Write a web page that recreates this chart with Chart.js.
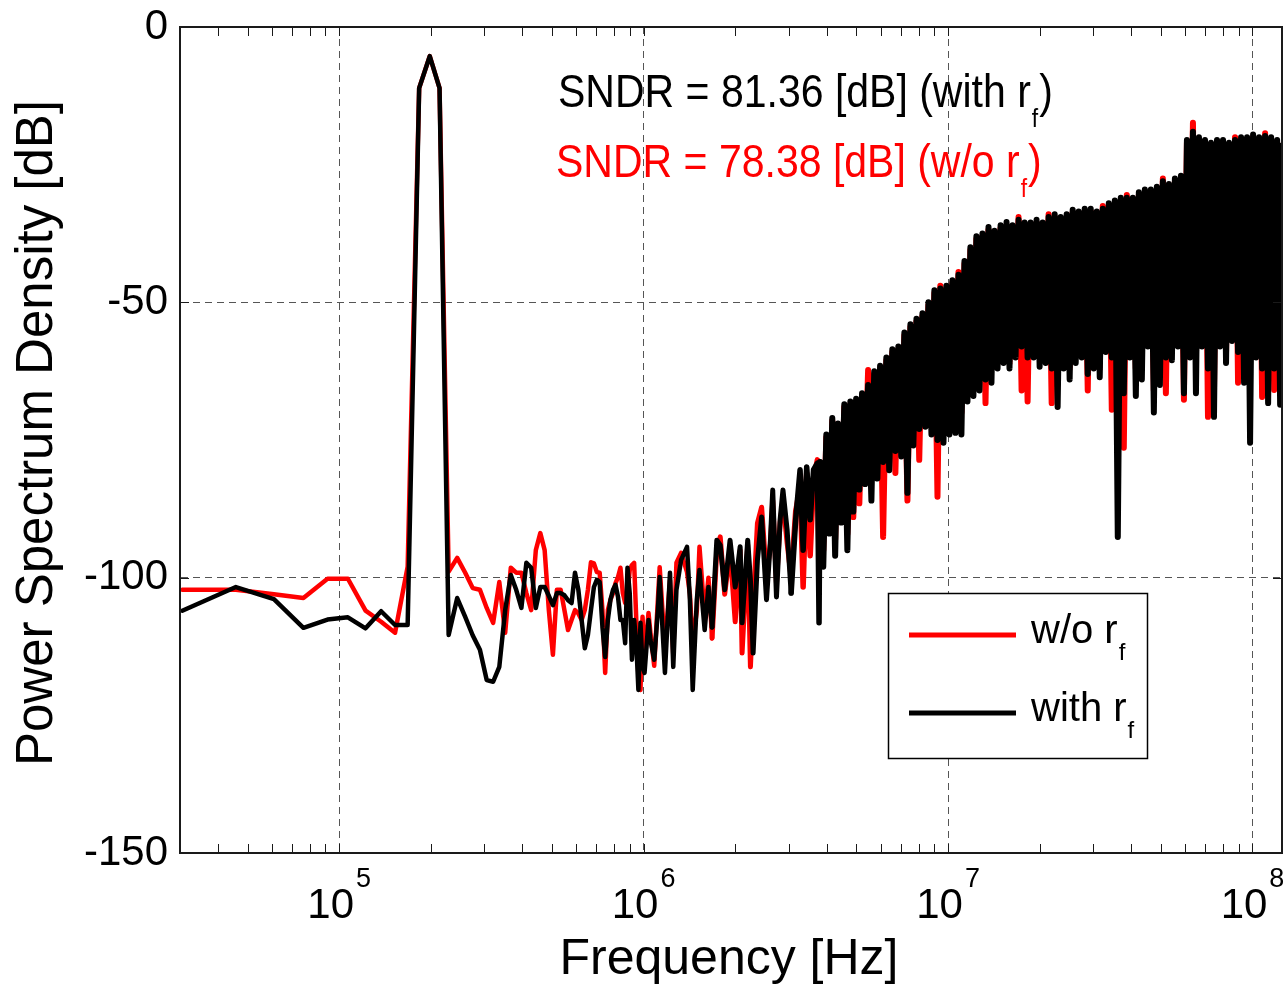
<!DOCTYPE html>
<html><head><meta charset="utf-8">
<script src="https://cdn.jsdelivr.net/npm/chart.js@4.4.1/dist/chart.umd.min.js"></script>
<style>html,body{margin:0;padding:0;background:#fff;}#wrap{width:1283px;height:986px;position:relative;}</style>
</head><body><div id="wrap"><canvas id="c"></canvas></div>
<script>
// FFT bin width: 250 MHz / 16384 points
const BIN_HZ = 250e6 / 16384;

// FFT bin indices (shared by both spectra)
const bins = [
  2,3,4,5,6,7,8,9,10,11,12,13,14,15,16,17,18,19,20,21,22,23,24,25,26,27,28,29,30,31,32,33,
  34,35,36,37,38,39,40,41,42,43,44,45,46,47,48,49,50,51,52,53,54,55,56,57,58,59,60,61,62,63,64,65,
  66,68,69,71,73,74,77,80,82,84,87,91,93,95,98,100,104,107,110,114,117,121,126,131,136,138,144,147,150,155,
  160,166,171,174,179,184,188,194,200,207,214,219,225,231,237,244,247,
  249,255,261,267,273,279,285,292,299,306,
  313,320,327,335,342,350,358,367,375,384,
  392,401,411,420,430,440,450,460,471,482,
  493,504,516,527,540,552,565,578,591,605,
  618,633,647,662,677,693,709,725,742,759,
  776,794,812,831,850,870,890,910,931,953,
  975,997,1020,1043,1067,1092,1117,1143,1169,1196,
  1223,1252,1280,1310,1340,1371,1402,1435,1468,1501,
  1536,1571,1607,1644,1682,1721,1760,1801,1842,1885,
  1928,1972,2018,2064,2112,2160,2210,2261,2313,2366,
  2420,2476,2533,2591,2651,2712,2774,2838,2903,2970,
  3038,3108,3179,3253,3327,3404,3482,3562,3644,3728,
  3814,3902,3991,4083,4177,4273,4371,4472,4575,4680,
  4788,4898,5011,5126,5244,5365,5488,5614,5743,5875,
  6011,6149,6290,6435,6583,6734,6889,7048,7210,7376,
  7545,7719,7896,8078,8192
];

// PSD [dB] without r_f (red)
const psdWithoutRf = [
  -102.2,-102.2,-103.0,-103.7,-100.2,-100.2,-106.0,-108.0,-110.0,-98.0,
  -11.1,-5.3,-11.1,-98.9,-96.4,-99.1,-101.9,-102.2,-105.5,-108.2,
  -100.8,-110.0,-98.2,-99.1,-99.1,-102.8,-105.9,-95.0,-91.9,-95.0,
  -105.9,-114.0,-102.2,-102.2,-105.9,-109.5,-107.7,-105.9,-106.5,-107.7,
  -105.9,-102.2,-97.2,-97.4,-99.0,-99.1,-105.9,-117.3,-105.9,-104.0,
  -102.8,-101.0,-99.9,-98.2,-102.8,-104.6,-102.8,-98.6,-97.7,-97.3,
  -107.7,-118.0,-120.4,-107.1,
  -115.0,-106.4,-110.0,-116.0,-104.0,-98.1,-113.0,-100.5,-114.0,-97.3,
  -95.5,-99.0,-103.0,-112.0,-106.0,-94.4,-107.0,-100.0,-111.0,-95.0,
  -92.6,-103.0,-95.0,-108.0,-95.0,-113.7,-94.0,-116.2,-105.0,-90.1,
  -87.2,-100.0,-94.0,-86.0,-101.0,-90.0,-86.0,-93.7,-100.0,-88.0,
  -83.5,-101.7,-81.0,-96.0,-82.0,-78.6,-97.0,
  -79.5,-95,-74.5,-91,-71.5,-93,-72.5,-89,-69,-92,
  -68.5,-89,-68,-86.5,-67,-80,-62.3,-82,-63,-79,
  -62,-92.6,-60.5,-78,-59,-81,-58.5,-75,-56,-86,
  -54.5,-74,-53.5,-78.6,-52.5,-70,-50.5,-72,-48.3,-85.3,
  -47,-72,-47.5,-71,-46.5,-70,-44.5,-70,-43,-66,
  -40.5,-65,-38.5,-64,-38,-68.3,-36.8,-62,-37.5,-61,
  -36.5,-60,-36,-61,-36.5,-59,-34.5,-66,-36,-68,
  -36,-58,-35.5,-60,-36,-59.5,-34,-68.3,-34.5,-65,
  -35,-60,-34.5,-62,-33.7,-59,-34,-58.5,-33.5,-66,
  -33.5,-61,-34,-62,-32.5,-57.5,-32.5,-69.5,-32,-65,
  -31.5,-76.4,-30.5,-58.5,-31.5,-62,-30.5,-60,-30,-56.5,
  -30,-66,-29.5,-62,-27.5,-66.5,-29,-59,-28,-56.5,
  -27.5,-67.7,-21,-58,-17.4,-60,-20.5,-56.5,-21,-70.8,
  -21.5,-66,-21,-56.5,-21,-59,-21.5,-55.5,-20,-64.6,
  -20.5,-62,-20.5,-60,-20,-58.5,-20.5,-67.2,-19.3,-64,
  -20.5,-65.9,-21,-63,-22
];

// PSD [dB] with r_f (black)
const psdWithRf = [
  -106.0,-101.7,-103.9,-109.1,-107.6,-107.2,-109.2,-106.1,-108.6,-108.6,
  -11.1,-5.3,-11.1,-110.4,-103.7,-107.1,-110.5,-113.1,-118.6,-118.9,
  -116.2,-105.9,-99.5,-102.2,-105.5,-97.3,-98.2,-105.5,-101.7,-101.7,
  -103.3,-105.0,-102.8,-102.8,-103.2,-104.1,-104.6,-99.1,-102.2,-107.7,
  -112.8,-110.4,-105.9,-101.7,-100.4,-100.8,-109.0,-114.4,-107.7,-104.0,
  -102.2,-101.3,-103.5,-107.7,-107.7,-111.9,-98.2,-102.8,-114.9,-107.7,
  -111.9,-120.4,-108.2,-116.2,
  -117.3,-107.7,-111.3,-114.9,-105.9,-99.9,-117.3,-99.1,-116.2,-102.2,
  -96.8,-94.4,-104.0,-120.4,-104.0,-98.6,-109.5,-101.7,-109.0,-93.2,
  -94.1,-102.2,-93.2,-101.7,-94.4,-108.2,-93.2,-100.4,-113.7,-96.8,
  -89.0,-104.0,-93.2,-84.1,-103.5,-89.5,-84.1,-91.3,-102.8,-89.5,
  -80.4,-95.0,-79.9,-89.5,-80.4,-79.2,-108.2,
  -79,-98,-74,-92,-71,-96,-72,-90,-68.5,-95,
  -68,-88,-67.5,-84,-66.5,-83,-65,-86,-62.5,-82,
  -61.5,-79,-60,-80.5,-58.5,-77,-58,-78,-55.5,-84.6,
  -54,-76,-53,-73,-52,-72.6,-50,-74,-47.8,-75,
  -47.5,-75.5,-47,-74,-46,-73.7,-45,-74,-42.5,-68,
  -40,-67,-38,-66,-37.5,-64,-36.3,-64.6,-37,-62,
  -36,-61,-35.4,-62,-36,-60,-35,-58,-35.5,-60,
  -35.5,-60,-35,-61.7,-35.5,-61,-34.5,-62,-34,-69,
  -34.5,-62,-34,-64,-33.2,-61,-33.5,-60,-33,-63,
  -33,-62,-33.5,-63.6,-33,-59,-32,-60,-31.5,-92.6,
  -31,-66.5,-31,-60,-31,-67,-30,-64,-29.5,-58,
  -29.5,-70,-29,-65,-28,-60,-28.5,-60.5,-27.5,-58,
  -27,-66.5,-20.5,-60,-19,-66.5,-20,-58,-20.5,-62,
  -21,-70.8,-20.5,-58,-20.5,-61,-21,-57,-20.5,-59,
  -20,-64.6,-20,-75.5,-19.5,-60,-20,-62,-19.8,-68.3,
  -20,-62,-20.5,-68.6,-21.5
];

const xTickExponents = [5, 6, 7, 8];
const yTicks = [0, -50, -100, -150];
const seriesNames = ['w/o r', 'with r'];
const subscriptText = 'f';
const sndrLines = ['SNDR = 81.36 [dB] (with r', 'SNDR = 78.38 [dB] (w/o r'];
const xTitle = 'Frequency [Hz]';
const yTitle = 'Power Spectrum Density [dB]';

const FONT = '"Liberation Sans", Arial, Helvetica, sans-serif';
Chart.defaults.font.family = FONT;

function toPoints(vals) {
  return bins.map((k, i) => ({ x: k * BIN_HZ, y: vals[i] }));
}

const decor = {
  id: 'decor',
  afterDatasetsDraw(chart) {
    const ctx = chart.ctx;
    const a = chart.chartArea;
    const xs = chart.scales.x, ys = chart.scales.y;
    ctx.save();
    ctx.strokeStyle = '#1a1a1a';
    ctx.lineWidth = 2;
    ctx.strokeRect(a.left, a.top, a.right - a.left, a.bottom - a.top);
    ctx.lineWidth = 1;
    const tl = 9;
    for (let d = 4; d <= 8; d++) {
      for (let m = 1; m <= 9; m++) {
        const v = m * Math.pow(10, d);
        if (v <= xs.min || v >= xs.max) continue;
        const px = Math.round(xs.getPixelForValue(v)) + 0.5;
        ctx.beginPath();
        ctx.moveTo(px, a.bottom); ctx.lineTo(px, a.bottom - tl);
        ctx.moveTo(px, a.top); ctx.lineTo(px, a.top + tl);
        ctx.stroke();
      }
    }
    yTicks.forEach(v => {
      const py = Math.round(ys.getPixelForValue(v)) + 0.5;
      ctx.beginPath();
      ctx.moveTo(a.left, py); ctx.lineTo(a.left + tl, py);
      ctx.moveTo(a.right, py); ctx.lineTo(a.right - tl, py);
      ctx.stroke();
    });
    ctx.fillStyle = '#000';
    ctx.textBaseline = 'alphabetic';
    ctx.textAlign = 'left';
    xTickExponents.forEach(e => {
      const px = xs.getPixelForValue(Math.pow(10, e));
      ctx.font = '42px ' + FONT;
      const bw = ctx.measureText('10').width;
      ctx.font = '27px ' + FONT;
      const ew = ctx.measureText(String(e)).width;
      const start = px - (bw + 2 + ew) / 2;
      ctx.font = '42px ' + FONT;
      ctx.fillText('10', start, 918);
      ctx.font = '27px ' + FONT;
      ctx.fillText(String(e), start + bw + 2, 887);
    });
    ctx.font = '50px ' + FONT;
    ctx.textAlign = 'center';
    ctx.fillText(xTitle, (a.left + a.right) / 2 - 2, 974);
    ctx.save();
    ctx.translate(52, 433);
    ctx.rotate(-Math.PI / 2);
    ctx.font = '51px ' + FONT;
    ctx.fillText(yTitle, 0, 0);
    ctx.restore();

    // SNDR annotations (slightly tall lettering, as in the original figure)
    const ds = chart.data.datasets;
    const noteColors = [ds[1].borderColor, ds[0].borderColor];
    const noteX = [558, 556];
    const noteY = [107, 177];
    ctx.textAlign = 'left';
    sndrLines.forEach((t, i) => {
      ctx.save();
      ctx.translate(noteX[i], noteY[i]);
      ctx.scale(1, 1.12);
      ctx.fillStyle = noteColors[i];
      ctx.font = '41px ' + FONT;
      const w = ctx.measureText(t).width;
      ctx.fillText(t, 0, 0);
      ctx.font = '23px ' + FONT;
      const sw = ctx.measureText(subscriptText).width;
      ctx.fillText(subscriptText, w + 1, 17.5);
      ctx.font = '41px ' + FONT;
      ctx.fillText(')', w + sw + 2, 0);
      ctx.restore();
    });

    // legend
    const lx = 888.5, ly = 593.5, lw = 259, lh = 165;
    ctx.fillStyle = '#fff';
    ctx.fillRect(lx, ly, lw, lh);
    ctx.strokeStyle = '#000';
    ctx.lineWidth = 1.5;
    ctx.strokeRect(lx, ly, lw, lh);
    const rowY = [635, 713];
    ds.forEach((d, i) => {
      ctx.strokeStyle = d.borderColor;
      ctx.lineWidth = 5;
      ctx.lineCap = 'butt';
      ctx.beginPath();
      ctx.moveTo(909, rowY[i]); ctx.lineTo(1016, rowY[i]);
      ctx.stroke();
      ctx.fillStyle = '#000';
      ctx.font = '40px ' + FONT;
      const w = ctx.measureText(seriesNames[i]).width;
      ctx.fillText(seriesNames[i], 1031, rowY[i] + 8);
      ctx.font = '24px ' + FONT;
      ctx.fillText(subscriptText, 1031 + w + 1, rowY[i] + 25);
    });
    ctx.restore();
  }
};

const segWidth = c => {
  const k = bins[c.p0DataIndex];
  if (k >= 249) return 6;
  if (k >= 200) return 5.5;
  if (k >= 110) return 5;
  return undefined;
};

function lineDataset(label, vals, color, order) {
  return {
    label: label,
    data: toPoints(vals),
    borderColor: color,
    borderWidth: 4.5,
    pointRadius: 0,
    tension: 0,
    fill: false,
    order: order,
    borderJoinStyle: 'round',
    borderCapStyle: 'round',
    segment: { borderWidth: segWidth }
  };
}

new Chart(document.getElementById('c'), {
  type: 'line',
  data: {
    datasets: [
      lineDataset('w/o rf', psdWithoutRf, '#ff0000', 1),
      lineDataset('with rf', psdWithRf, '#000000', 0)
    ]
  },
  options: {
    responsive: true,
    maintainAspectRatio: false,
    devicePixelRatio: 1,
    animation: false,
    events: [],
    layout: { padding: { left: 0, top: 27, right: 1, bottom: 0 } },
    plugins: { legend: { display: false }, title: { display: false }, tooltip: { enabled: false } },
    scales: {
      x: {
        type: 'logarithmic',
        min: 3e4,
        max: 1.25e8,
        afterBuildTicks: s => { s.ticks = xTickExponents.map(e => ({ value: Math.pow(10, e) })); },
        afterFit: s => { s.height = 133; s.paddingLeft = 0; s.paddingRight = 0; },
        ticks: { display: false },
        grid: { drawTicks: false, color: '#555', lineWidth: 1 },
        border: { display: true, color: '#1a1a1a', width: 2, dash: [7, 5] }
      },
      y: {
        type: 'linear',
        min: -150,
        max: 0,
        afterBuildTicks: s => { s.ticks = yTicks.map(v => ({ value: v })); },
        afterFit: s => { s.width = 180; s.paddingTop = 0; s.paddingBottom = 0; },
        ticks: { color: '#000', font: { size: 42 }, padding: 12 },
        grid: { drawTicks: false, color: '#555', lineWidth: 1 },
        border: { display: true, color: '#1a1a1a', width: 2, dash: [7, 5] }
      }
    }
  },
  plugins: [decor]
});
</script></body></html>
